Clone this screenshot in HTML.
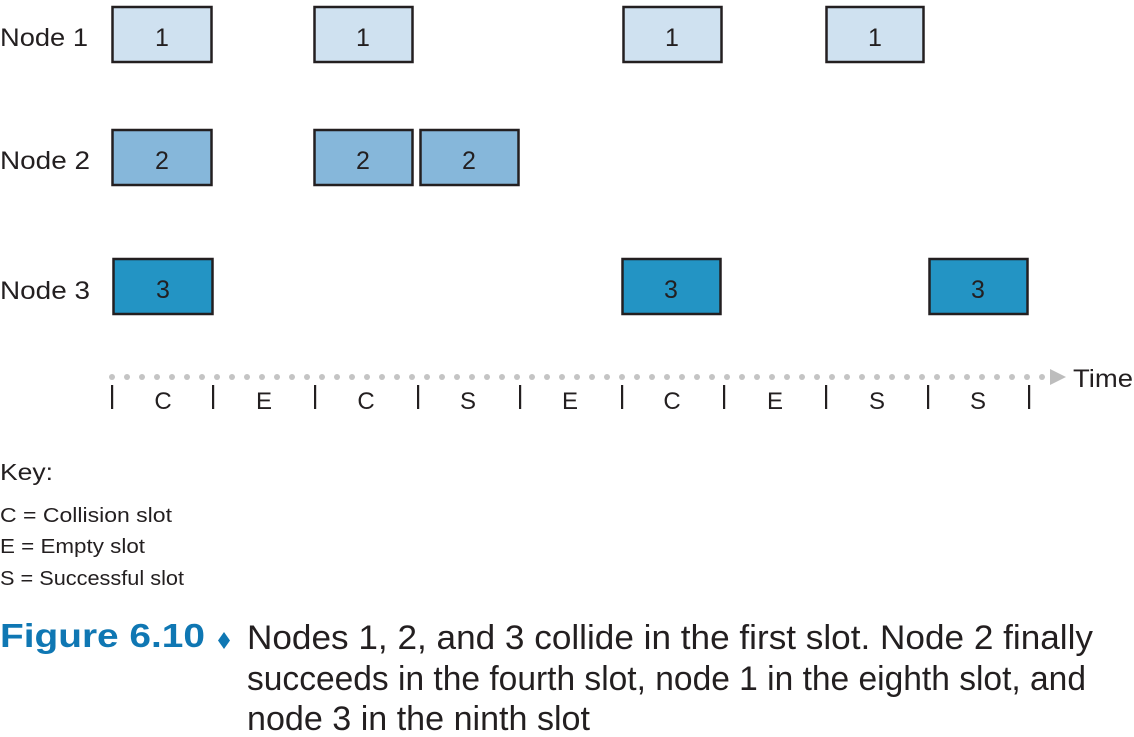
<!DOCTYPE html>
<html>
<head>
<meta charset="utf-8">
<style>
  html, body { margin: 0; padding: 0; background: #ffffff; }
  body { width: 1134px; height: 737px; overflow: hidden; }
  svg { display: block; }
  text { font-family: "Liberation Sans", "DejaVu Sans", sans-serif; fill: #231f20; }
</style>
</head>
<body>
<svg width="1134" height="737" viewBox="0 0 1134 737" xmlns="http://www.w3.org/2000/svg">
  <!-- Node labels -->
  <text x="0" y="46" font-size="25" textLength="88" lengthAdjust="spacingAndGlyphs">Node 1</text>
  <text x="0" y="169" font-size="25" textLength="90" lengthAdjust="spacingAndGlyphs">Node 2</text>
  <text x="0" y="299" font-size="25" textLength="90" lengthAdjust="spacingAndGlyphs">Node 3</text>

  <!-- Node 1 boxes -->
  <g fill="#cfe1f0" stroke="#231f20" stroke-width="2.5">
    <rect x="112.5" y="7" width="99" height="55"/>
    <rect x="314.5" y="7" width="98" height="55"/>
    <rect x="623.5" y="7" width="98" height="55"/>
    <rect x="826.5" y="7" width="97" height="55"/>
  </g>
  <!-- Node 2 boxes -->
  <g fill="#86b7da" stroke="#231f20" stroke-width="2.5">
    <rect x="112.5" y="130" width="99" height="55"/>
    <rect x="314.5" y="130" width="98" height="55"/>
    <rect x="420.5" y="130" width="98" height="55"/>
  </g>
  <!-- Node 3 boxes -->
  <g fill="#2394c4" stroke="#231f20" stroke-width="2.5">
    <rect x="113.5" y="259" width="99" height="55"/>
    <rect x="622.5" y="259" width="98" height="55"/>
    <rect x="929.5" y="259" width="98" height="55"/>
  </g>

  <!-- Box numbers -->
  <g font-size="25" text-anchor="middle">
    <text x="162" y="46">1</text>
    <text x="363" y="46">1</text>
    <text x="672" y="46">1</text>
    <text x="875" y="46">1</text>
    <text x="162" y="169">2</text>
    <text x="363" y="169">2</text>
    <text x="469" y="169">2</text>
    <text x="163" y="298">3</text>
    <text x="671" y="298">3</text>
    <text x="978" y="298">3</text>
  </g>

  <!-- Arrowhead and Time label -->
  <polygon points="1050,369 1066,377 1050,385" fill="#bdbdbd"/>
  <text x="1073" y="387" font-size="25" textLength="60" lengthAdjust="spacingAndGlyphs">Time</text>

  <!-- Ticks -->
  <g fill="#231f20">
    <rect x="111" y="385" width="2.2" height="24"/>
    <rect x="212" y="385" width="2.2" height="24"/>
    <rect x="314" y="385" width="2.2" height="24"/>
    <rect x="417" y="385" width="2.2" height="24"/>
    <rect x="519" y="385" width="2.2" height="24"/>
    <rect x="621" y="385" width="2.2" height="24"/>
    <rect x="723" y="385" width="2.2" height="24"/>
    <rect x="825" y="385" width="2.2" height="24"/>
    <rect x="927" y="385" width="2.2" height="24"/>
    <rect x="1028" y="385" width="2.2" height="24"/>
  </g>

  <!-- Slot letters -->
  <g font-size="24" text-anchor="middle">
    <text x="163" y="409">C</text>
    <text x="264" y="409">E</text>
    <text x="366" y="409">C</text>
    <text x="468" y="409">S</text>
    <text x="570" y="409">E</text>
    <text x="672" y="409">C</text>
    <text x="775" y="409">E</text>
    <text x="877" y="409">S</text>
    <text x="978" y="409">S</text>
  </g>

  <!-- Key -->
  <text x="0" y="480" font-size="23" textLength="53" lengthAdjust="spacingAndGlyphs">Key:</text>
  <text x="0" y="522" font-size="20" textLength="172" lengthAdjust="spacingAndGlyphs">C = Collision slot</text>
  <text x="0" y="553" font-size="20" textLength="145" lengthAdjust="spacingAndGlyphs">E = Empty slot</text>
  <text x="0" y="585" font-size="20" textLength="184" lengthAdjust="spacingAndGlyphs">S = Successful slot</text>

  <!-- Caption -->
  <text x="0" y="647" font-size="33" font-weight="bold" style="fill:#0f77b3" textLength="205" lengthAdjust="spacingAndGlyphs">Figure 6.10</text>
  <polygon points="224,632 230,640.5 224,649 218,640.5" fill="#0f77b3"/>
  <text x="247" y="649" font-size="34" textLength="846" lengthAdjust="spacingAndGlyphs">Nodes 1, 2, and 3 collide in the first slot. Node 2 finally</text>
  <text x="247" y="690" font-size="34" textLength="839" lengthAdjust="spacingAndGlyphs">succeeds in the fourth slot, node 1 in the eighth slot, and</text>
  <text x="247" y="730" font-size="34" textLength="343" lengthAdjust="spacingAndGlyphs">node 3 in the ninth slot</text>

  <!-- Dotted time line -->
  <g fill="#c4c4c4">
    <circle cx="112" cy="377" r="3"/><circle cx="127" cy="377" r="3"/><circle cx="142" cy="377" r="3"/><circle cx="157" cy="377" r="3"/><circle cx="172" cy="377" r="3"/><circle cx="187" cy="377" r="3"/><circle cx="202" cy="377" r="3"/><circle cx="217" cy="377" r="3"/><circle cx="232" cy="377" r="3"/><circle cx="247" cy="377" r="3"/>
    <circle cx="262" cy="377" r="3"/><circle cx="277" cy="377" r="3"/><circle cx="292" cy="377" r="3"/><circle cx="307" cy="377" r="3"/><circle cx="322" cy="377" r="3"/><circle cx="337" cy="377" r="3"/><circle cx="352" cy="377" r="3"/><circle cx="367" cy="377" r="3"/><circle cx="382" cy="377" r="3"/><circle cx="397" cy="377" r="3"/>
    <circle cx="412" cy="377" r="3"/><circle cx="427" cy="377" r="3"/><circle cx="442" cy="377" r="3"/><circle cx="457" cy="377" r="3"/><circle cx="472" cy="377" r="3"/><circle cx="487" cy="377" r="3"/><circle cx="502" cy="377" r="3"/><circle cx="517" cy="377" r="3"/><circle cx="532" cy="377" r="3"/><circle cx="547" cy="377" r="3"/>
    <circle cx="562" cy="377" r="3"/><circle cx="577" cy="377" r="3"/><circle cx="592" cy="377" r="3"/><circle cx="607" cy="377" r="3"/><circle cx="622" cy="377" r="3"/><circle cx="637" cy="377" r="3"/><circle cx="652" cy="377" r="3"/><circle cx="667" cy="377" r="3"/><circle cx="682" cy="377" r="3"/><circle cx="697" cy="377" r="3"/>
    <circle cx="712" cy="377" r="3"/><circle cx="727" cy="377" r="3"/><circle cx="742" cy="377" r="3"/><circle cx="757" cy="377" r="3"/><circle cx="772" cy="377" r="3"/><circle cx="787" cy="377" r="3"/><circle cx="802" cy="377" r="3"/><circle cx="817" cy="377" r="3"/><circle cx="832" cy="377" r="3"/><circle cx="847" cy="377" r="3"/>
    <circle cx="862" cy="377" r="3"/><circle cx="877" cy="377" r="3"/><circle cx="892" cy="377" r="3"/><circle cx="907" cy="377" r="3"/><circle cx="922" cy="377" r="3"/><circle cx="937" cy="377" r="3"/><circle cx="952" cy="377" r="3"/><circle cx="967" cy="377" r="3"/><circle cx="982" cy="377" r="3"/><circle cx="997" cy="377" r="3"/>
    <circle cx="1012" cy="377" r="3"/><circle cx="1027" cy="377" r="3"/><circle cx="1042" cy="377" r="3"/>
  </g>
</svg>
</body>
</html>
